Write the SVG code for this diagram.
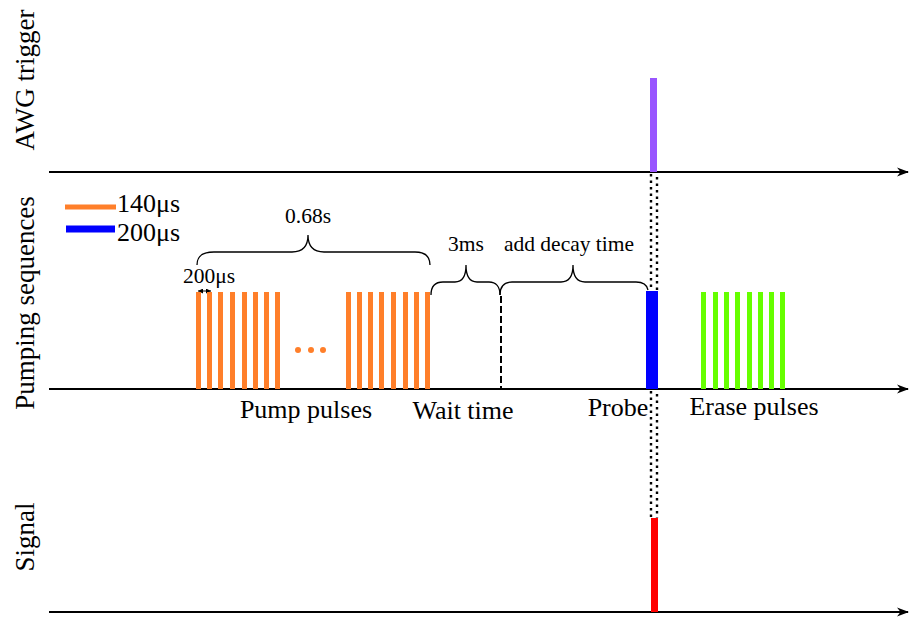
<svg xmlns="http://www.w3.org/2000/svg" width="909" height="617" viewBox="0 0 909 617">
  <defs>
    <marker id="axisHead" viewBox="0 0 12 10" markerWidth="12" markerHeight="10" refX="11" refY="5" orient="auto" markerUnits="userSpaceOnUse">
      <path d="M0,0.5 L12,5 L0,9.5 L3.5,5 z" fill="#000"/>
    </marker>
    <marker id="tinyHead" viewBox="0 0 6 6" markerWidth="5" markerHeight="5" refX="6" refY="3" orient="auto-start-reverse" markerUnits="userSpaceOnUse">
      <path d="M0,0 L6,3 L0,6 z" fill="#000"/>
    </marker>
  </defs>
  <style>
    .axis { stroke: #000; stroke-width: 2; fill: none; }
    .brace { stroke: #000; stroke-width: 1.3; fill: none; }
    .dots { stroke: #000; stroke-width: 2.4; stroke-dasharray: 2.4 4.1; fill: none; }
    .pump { fill: #FF7F2A; }
    .erase { fill: #66FF00; }
    .lbl { font-family: "Liberation Serif", "Times New Roman", serif; font-size: 26px; fill: #000; }
    .side { font-family: "Liberation Serif", "Times New Roman", serif; font-size: 27px; fill: #000; }
    .sm { font-family: "Liberation Serif", "Times New Roman", serif; font-size: 21.5px; fill: #000; }
  </style>
  <rect width="909" height="617" fill="#fff"/>

  <!-- channel labels -->
  <g id="channel-labels">
    <text class="side" transform="translate(34,80) rotate(-90)" text-anchor="middle">AWG trigger</text>
    <text class="side" transform="translate(34,303) rotate(-90)" text-anchor="middle">Pumping sequences</text>
    <text class="side" transform="translate(34,537) rotate(-90)" text-anchor="middle">Signal</text>
  </g>

  <!-- time axes and connectors -->
  <g id="connectors">
    <line class="axis" x1="49" y1="172" x2="908" y2="172" marker-end="url(#axisHead)"/>
    <line class="axis" x1="49" y1="389" x2="908" y2="389" marker-end="url(#axisHead)"/>
    <line class="axis" x1="49" y1="612" x2="908" y2="612" marker-end="url(#axisHead)"/>
    <!-- dotted sync lines through the probe -->
    <line class="dots" x1="651" y1="174" x2="651" y2="291"/>
    <line class="dots" x1="657" y1="177" x2="657" y2="291"/>
    <line class="dots" x1="651" y1="391" x2="651" y2="518"/>
    <line class="dots" x1="657" y1="394" x2="657" y2="518"/>
    <!-- end of wait time -->
    <line x1="501" y1="296" x2="501" y2="388" stroke="#000" stroke-width="2" stroke-dasharray="7 3"/>
    <!-- pulse period marker -->
    <line x1="198" y1="291" x2="211" y2="291" stroke="#000" stroke-width="1" marker-start="url(#tinyHead)" marker-end="url(#tinyHead)"/>
  </g>

  <!-- legend -->
  <g id="legend">
    <line x1="65" y1="207" x2="116" y2="207" stroke="#FF7F2A" stroke-width="5"/>
    <line x1="66" y1="229" x2="115" y2="229" stroke="#0000FF" stroke-width="7"/>
    <text class="lbl" x="117" y="212">140μs</text>
    <text class="lbl" x="117" y="241">200μs</text>
  </g>

  <!-- AWG trigger pulse -->
  <g id="trigger">
    <rect x="650" y="78" width="7" height="94" fill="#9955FF"/>
  </g>

  <!-- pump pulse trains -->
  <g id="pump-pulses">
    <rect class="pump" x="196" y="292" width="5" height="97"/>
    <rect class="pump" x="207" y="292" width="5" height="97"/>
    <rect class="pump" x="218" y="292" width="5" height="97"/>
    <rect class="pump" x="230" y="292" width="5" height="97"/>
    <rect class="pump" x="242" y="292" width="5" height="97"/>
    <rect class="pump" x="253" y="292" width="5" height="97"/>
    <rect class="pump" x="264" y="292" width="5" height="97"/>
    <rect class="pump" x="275" y="292" width="5" height="97"/>
    <circle cx="298" cy="350" r="3" fill="#FF7F2A"/>
    <circle cx="311" cy="350" r="3" fill="#FF7F2A"/>
    <circle cx="323" cy="350" r="3" fill="#FF7F2A"/>
    <rect class="pump" x="346" y="292" width="5" height="97"/>
    <rect class="pump" x="357" y="292" width="5" height="97"/>
    <rect class="pump" x="368" y="292" width="5" height="97"/>
    <rect class="pump" x="379" y="292" width="5" height="97"/>
    <rect class="pump" x="391" y="292" width="5" height="97"/>
    <rect class="pump" x="403" y="292" width="5" height="97"/>
    <rect class="pump" x="414" y="292" width="5" height="97"/>
    <rect class="pump" x="425" y="292" width="5" height="97"/>
    <text class="sm" x="183" y="283">200μs</text>
  </g>

  <!-- timing braces -->
  <g id="braces">
    <path class="brace" d="M197,265 C197,256 202,252 214,252 L292,252 C302,252 308,247 308,235 C308,247 314,252 324,252 L415,252 C425,252 430,256 430,265"/>
    <text class="sm" x="308" y="223" text-anchor="middle">0.68s</text>
    <path class="brace" d="M431,295 C431,287 435,282 443,282 L455,282 C462,282 466,277 466,265 C466,277 470,282 477,282 L489,282 C496,282 500,287 500,295"/>
    <text class="sm" x="466" y="251" text-anchor="middle">3ms</text>
    <path class="brace" d="M500,295 C500,287 504,282 512,282 L561,282 C569,282 573,277 573,265 C573,277 577,282 585,282 L636,282 C643,282 647,285 648,290"/>
    <text class="sm" x="569" y="251" text-anchor="middle">add decay time</text>
  </g>

  <!-- probe pulse -->
  <g id="probe">
    <rect x="646" y="291" width="12" height="98" fill="#0000FF"/>
  </g>

  <!-- erase pulse train -->
  <g id="erase-pulses">
    <rect class="erase" x="701" y="292" width="5" height="97"/>
    <rect class="erase" x="713" y="292" width="5" height="97"/>
    <rect class="erase" x="724" y="292" width="5" height="97"/>
    <rect class="erase" x="735" y="292" width="5" height="97"/>
    <rect class="erase" x="747" y="292" width="5" height="97"/>
    <rect class="erase" x="758" y="292" width="5" height="97"/>
    <rect class="erase" x="769" y="292" width="5" height="97"/>
    <rect class="erase" x="780" y="292" width="5" height="97"/>
  </g>

  <!-- signal pulse -->
  <g id="signal">
    <rect x="651" y="518" width="7" height="94" fill="#FF0000"/>
  </g>

  <!-- phase labels -->
  <g id="phase-labels">
    <text class="lbl" x="306" y="418" text-anchor="middle">Pump pulses</text>
    <text class="lbl" x="463" y="419" text-anchor="middle">Wait time</text>
    <text class="lbl" x="618" y="416" text-anchor="middle">Probe</text>
    <text class="lbl" x="754" y="415" text-anchor="middle">Erase pulses</text>
  </g>
</svg>
